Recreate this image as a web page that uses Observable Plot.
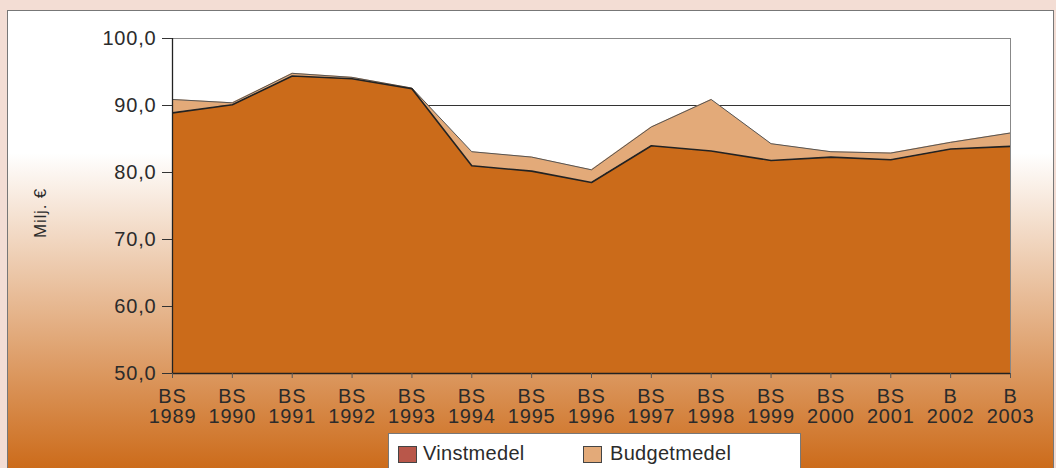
<!DOCTYPE html>
<html>
<head>
<meta charset="utf-8">
<script src="https://cdn.jsdelivr.net/npm/d3@7"></script>
<script src="https://cdn.jsdelivr.net/npm/@observablehq/plot@0.6"></script>
<style>
  html, body { margin: 0; padding: 0; }
  body { width: 1056px; height: 468px; overflow: hidden; background: #F3DDD4; font-family: "Liberation Sans", Arial, sans-serif; }
  #wrap { position: relative; width: 1056px; height: 468px; overflow: hidden; }
  #panel { position: absolute; left: 7px; top: 10px; width: 1045px; height: 480px; border: 1px solid #777;
    background: linear-gradient(to bottom, #ffffff 0px, #ffffff 142px, #CC6B1A 458px); }
  #chart { position: absolute; left: 0; top: 0; }
  #legend { position: absolute; left: 388px; top: 433px; width: 411px; height: 60px; background: #fff; border: 1px solid #777; }
  .sw { position: absolute; top: 12px; width: 17px; height: 15px; border: 1px solid #444; }
  .lt { position: absolute; top: 8px; font-size: 20px; color: #2b2b2b; line-height: 22px; letter-spacing: 0.3px; }
</style>
</head>
<body>
<div id="wrap">
  <div id="panel"></div>
  <div id="chart"></div>
  <div id="legend"></div>
</div>
<script>
const years = [1989, 1990, 1991, 1992, 1993, 1994, 1995, 1996, 1997, 1998, 1999, 2000, 2001, 2002, 2003];
const prefixes = ["BS", "BS", "BS", "BS", "BS", "BS", "BS", "BS", "BS", "BS", "BS", "BS", "BS", "B", "B"];
const vinstmedel = [88.9, 90.1, 94.4, 94.0, 92.5, 81.0, 80.2, 78.5, 84.0, 83.2, 81.8, 82.3, 81.9, 83.5, 83.9];
const budgetmedel = [2.0, 0.3, 0.4, 0.2, 0.1, 2.1, 2.1, 1.9, 2.8, 7.7, 2.5, 0.8, 1.0, 1.0, 2.0];
const seriesNames = ["Vinstmedel", "Budgetmedel"];
const yTicks = [50, 60, 70, 80, 90, 100];
const gridTicks = [60, 70, 80, 90];

const areaColors = ["#CB6B1A", "#E3AA79"];
const legendColors = ["#B9574A", "#E3AA79"];

const data = years.flatMap((yr, i) => [
  {year: yr, serie: seriesNames[0], value: vinstmedel[i]},
  {year: yr, serie: seriesNames[1], value: budgetmedel[i]}
]);
const tops = years.map((yr, i) => ({year: yr, v: vinstmedel[i], t: vinstmedel[i] + budgetmedel[i]}));

const chart = Plot.plot({
  width: 1056,
  height: 430,
  marginLeft: 172,
  marginRight: 46,
  marginTop: 38,
  marginBottom: 57,
  style: {background: "transparent", fontFamily: "'Liberation Sans', Arial, sans-serif", color: "#2b2b2b", letterSpacing: "0.8px"},
  x: {domain: [1989, 2003]},
  y: {domain: [50, 100]},
  color: {domain: seriesNames, range: areaColors},
  marks: [
    Plot.frame({fill: "white", stroke: null}),
    Plot.ruleY(gridTicks, {stroke: "#333", strokeWidth: 1}),
    Plot.areaY(data, {x: "year", y: "value", fill: "serie", z: "serie", order: seriesNames, clip: true}),
    Plot.lineY(tops, {x: "year", y: "t", stroke: "#555", strokeWidth: 1, clip: true}),
    Plot.lineY(tops, {x: "year", y: "v", stroke: "#222", strokeWidth: 1.6, clip: true}),
    Plot.frame({stroke: "#888", strokeWidth: 1}),
    Plot.ruleY([50], {stroke: "#222", strokeWidth: 1.3}),
    Plot.ruleX([1989], {stroke: "#222", strokeWidth: 1.3}),
    Plot.axisY(yTicks, {tickSize: 10, tickPadding: 6, fontSize: 20, stroke: "#333", fill: "#2b2b2b",
      tickFormat: d => d.toFixed(1).replace(".", ","), label: null}),
    Plot.axisX(years, {tickSize: 5, tickPadding: 10, fontSize: 20, stroke: "#555", fill: "#2b2b2b",
      tickFormat: d => prefixes[years.indexOf(d)] + "\n" + d, label: null}),
    Plot.text(["Milj. €"], {frameAnchor: "left", dx: -132, dy: 32, rotate: -90, fontSize: 17, fill: "#2b2b2b", text: d => d})
  ]
});
document.getElementById("chart").appendChild(chart);

const legend = document.getElementById("legend");
const swX = [9, 194];
const txtX = [34, 221];
seriesNames.forEach((name, i) => {
  const sw = document.createElement("div");
  sw.className = "sw";
  sw.style.left = swX[i] + "px";
  sw.style.background = legendColors[i];
  legend.appendChild(sw);
  const t = document.createElement("div");
  t.className = "lt";
  t.style.left = txtX[i] + "px";
  t.textContent = name;
  legend.appendChild(t);
});
</script>
</body>
</html>
